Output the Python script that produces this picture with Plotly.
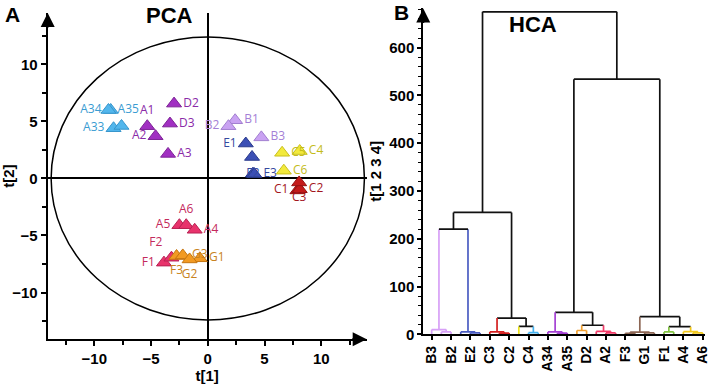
import plotly.graph_objects as go

# ---------------- PCA data ----------------
pca_names = ["A34", "A35", "A33", "", "A1", "A2", "D2", "D3", "A3",
             "B1", "B2", "B3", "E1", "", "E2", "E3",
             "C5", "C4", "C6", "C1", "C2", "C3",
             "A5", "A6", "A4", "F1", "F2",
             "F3", "G3", "G1", "G2"]
pca_t1 = [-8.55, -8.75, -8.3, -7.6, -5.33, -4.6, -2.97, -3.33, -3.5,
          2.41, 1.82, 4.72, 3.35, 3.9, 3.98, 4.1,
          6.55, 8.1, 6.7, 7.9, 8.1, 8.05,
          -2.5, -1.9, -1.15, -3.86, -3.2,
          -2.75, -2.2, -0.7, -1.6]
pca_t2 = [6.0, 6.0, 4.4, 4.6, 4.58, 3.7, 6.56, 4.81, 2.15,
          5.1, 4.58, 3.6, 3.06, 1.88, 0.42, 0.38,
          2.25, 2.4, 0.68, -1.05, -0.95, -0.35,
          -4.1, -4.1, -4.5, -7.38, -6.95,
          -6.8, -6.75, -7.0, -7.1]
pca_group = ["cyan"] * 4 + ["purple"] * 5 + ["lilac"] * 3 + ["blue"] * 4 + \
            ["yellow"] * 3 + ["red"] * 3 + ["pink"] * 5 + ["orange"] * 4
pca_textpos = ["middle left", "middle right", "middle left", "middle right",
               "top center", "middle left", "middle right", "middle right", "middle right",
               "middle right", "middle left", "middle right", "middle left", "middle right",
               "middle center", "middle right",
               "middle right", "middle right", "middle right",
               "middle left", "middle right", "bottom center",
               "middle left", "top center", "middle right", "middle left", "top left",
               "bottom center", "middle right", "middle right", "bottom center"]
ellipse_a = 13.8
ellipse_b = 12.4

group_fill = {"cyan": "#52b6ec", "purple": "#a12fc2", "lilac": "#c9a2f2", "blue": "#3b4fb5",
              "yellow": "#f2ea3c", "red": "#c41a1a", "pink": "#e8336c", "orange": "#f29a22"}
group_line = {"cyan": "#3795cc", "purple": "#7d2296", "lilac": "#a27fd0", "blue": "#2a3a8c",
              "yellow": "#c9bf1c", "red": "#951010", "pink": "#b82052", "orange": "#c47410"}
group_text = {"cyan": "#3a9cd2", "purple": "#8a2aa8", "lilac": "#a47fd6", "blue": "#34489e",
              "yellow": "#c4bc1a", "red": "#a3161c", "pink": "#c42a5c", "orange": "#c88320"}

# ---------------- HCA data ----------------
leaf_names = ["B3", "B1", "B2", "E1", "E2", "E3", "C3", "C1", "C2", "C5", "C4", "C6",
              "A34", "A33", "A35", "A1", "D2", "D3", "A2", "A3",
              "F3", "G3", "G1", "G2", "F1", "F2", "A4", "A5", "A6"]
leaf_color = ["#d7a0f7"] * 3 + ["#4a5cc2"] * 3 + ["#d42020"] * 3 + ["#ece31c"] + \
             ["#45b2f0"] * 2 + ["#a542d4"] * 3 + ["#f2a030"] * 2 + ["#f23a68"] * 3 + \
             ["#8c6654"] * 4 + ["#84c445"] * 2 + ["#f2c81c"] * 3
# merges: (child a, child b, height); new node ids start at len(leaf_names)
merges = [(1, 2, 5), (0, 29, 10), (4, 5, 3), (3, 31, 5), (30, 32, 220),
          (7, 8, 2.5), (6, 34, 5), (10, 11, 3.5), (9, 36, 16.5), (35, 37, 34),
          (33, 38, 255),
          (13, 14, 2.5), (12, 40, 5), (15, 16, 8), (18, 19, 3), (17, 43, 6),
          (42, 44, 19), (41, 45, 46),
          (20, 21, 2), (22, 23, 3), (47, 48, 4.5), (24, 25, 5), (27, 28, 3),
          (26, 51, 5.5), (50, 52, 16), (49, 53, 37), (46, 54, 534), (39, 55, 675)]

BLACK = "#111111"

fig = go.Figure()

# PCA ellipse
fig.add_shape(type="circle", xref="x", yref="y", x0=-ellipse_a, x1=ellipse_a,
              y0=-ellipse_b, y1=ellipse_b, line=dict(color="black", width=1.5), layer="below")

for g in ["cyan", "purple", "lilac", "blue", "yellow", "red", "pink", "orange"]:
    idx = [i for i, gg in enumerate(pca_group) if gg == g]
    fig.add_trace(go.Scatter(
        x=[pca_t1[i] for i in idx], y=[pca_t2[i] for i in idx],
        text=[pca_names[i] for i in idx], textposition=[pca_textpos[i] for i in idx],
        mode="markers+text", xaxis="x", yaxis="y", showlegend=False,
        marker=dict(symbol="triangle-up", size=13, color=group_fill[g],
                    line=dict(color=group_line[g], width=1)),
        textfont=dict(family="Open Sans", size=12, color=group_text[g]),
        cliponaxis=False))

# dendrogram
pos = list(range(len(leaf_names)))
hgt = [0.0] * len(leaf_names)
col = list(leaf_color)
segs = {}
def add_seg(c, xs, ys):
    d = segs.setdefault(c, ([], []))
    d[0].extend(xs + [None]); d[1].extend(ys + [None])
for a, b, h in merges:
    c = col[a] if col[a] == col[b] else BLACK
    add_seg(col[a], [pos[a], pos[a]], [hgt[a], h])
    add_seg(col[b], [pos[b], pos[b]], [hgt[b], h])
    add_seg(c, [pos[a], pos[b]], [h, h])
    pos.append((pos[a] + pos[b]) / 2); hgt.append(h); col.append(c)
for c, (xs, ys) in segs.items():
    fig.add_trace(go.Scatter(x=xs, y=ys, mode="lines", xaxis="x2", yaxis="y2",
                             line=dict(color=c, width=1.7), showlegend=False,
                             hoverinfo="skip", cliponaxis=False))

tickfont = dict(family="Liberation Sans", size=15, color="black", weight="bold")
leaffont = dict(family="Liberation Sans", size=14, color="black", weight="bold")
titlefont = dict(family="Liberation Sans", size=15, color="black", weight="bold")

def label(x, y, text, size):
    return dict(x=x / 709, y=1 - y / 384, xref="paper", yref="paper", text=text,
                showarrow=False, xanchor="center", yanchor="middle",
                font=dict(family="Liberation Sans", size=size, color="black", weight="bold"))

fig.update_layout(
    width=709, height=384, margin=dict(l=0, r=0, t=0, b=0, autoexpand=False),
    paper_bgcolor="white", plot_bgcolor="white",
    xaxis=dict(domain=[0.0673, 0.5172], range=[-14.1, 14.0], anchor="y", automargin=False,
               showline=True, linecolor="black", linewidth=2, showgrid=False,
               zeroline=True, zerolinecolor="black", zerolinewidth=1.5,
               ticks="outside", ticklen=5, tickwidth=1.5, tickcolor="black",
               tick0=0, dtick=5, tickfont=tickfont,
               minor=dict(dtick=2.5, ticklen=4, tickwidth=1.5, tickcolor="black", ticks="outside"),
               title=dict(text="t[1]", font=titlefont, standoff=2)),
    yaxis=dict(domain=[0.1164, 0.9661], range=[-14.1, 14.5], anchor="x", automargin=False,
               showline=True, linecolor="black", linewidth=2, showgrid=False,
               zeroline=True, zerolinecolor="black", zerolinewidth=1.5,
               ticks="outside", ticklen=5, tickwidth=1.5, tickcolor="black",
               tick0=0, dtick=5, tickfont=tickfont,
               minor=dict(dtick=2.5, ticklen=4, tickwidth=1.5, tickcolor="black", ticks="outside"),
               title=dict(text="t[2]", font=titlefont, standoff=4)),
    xaxis2=dict(domain=[0.597, 0.9946], range=[-0.87, 28.25], anchor="y2", automargin=False,
                showline=True, linecolor="black", linewidth=2, showgrid=False, zeroline=False,
                tickmode="array", tickvals=list(range(0, len(leaf_names), 2)),
                ticktext=leaf_names[::2], tickangle=-90, ticklabeloverflow="allow",
                ticks="outside", ticklen=4, tickwidth=1.5, tickcolor="black", tickfont=leaffont),
    yaxis2=dict(domain=[0.1294, 0.978], range=[0, 682], anchor="x2", automargin=False,
                showline=True, linecolor="black", linewidth=2, showgrid=False, zeroline=False,
                ticks="outside", ticklen=4, tickwidth=1.5, tickcolor="black",
                tick0=0, dtick=100, tickfont=tickfont,
                minor=dict(dtick=20, ticklen=3, tickwidth=1, tickcolor="black", ticks="outside"),
                title=dict(text="t[1 2 3 4]", font=titlefont, standoff=4)),
    annotations=[
        dict(x=14.0, y=-14.1, xref="x", yref="y", ax=-16, ay=0, showarrow=True, text="",
             arrowhead=2, arrowsize=1.4, arrowwidth=2, arrowcolor="black"),
        dict(x=-14.1, y=14.5, xref="x", yref="y", ax=0, ay=16, showarrow=True, text="",
             arrowhead=2, arrowsize=1.4, arrowwidth=2, arrowcolor="black"),
        dict(x=-0.87, y=682, xref="x2", yref="y2", ax=0, ay=16, showarrow=True, text="",
             arrowhead=2, arrowsize=1.4, arrowwidth=2, arrowcolor="black"),
        label(12, 14, "A", 21),
        label(401.7, 12, "B", 21),
        label(169, 15, "PCA", 22),
        label(533, 25, "HCA", 22),
    ],
)

fig.write_html("out.html", config={"displayModeBar": False},
               post_script="document.body.style.margin='0px';")
